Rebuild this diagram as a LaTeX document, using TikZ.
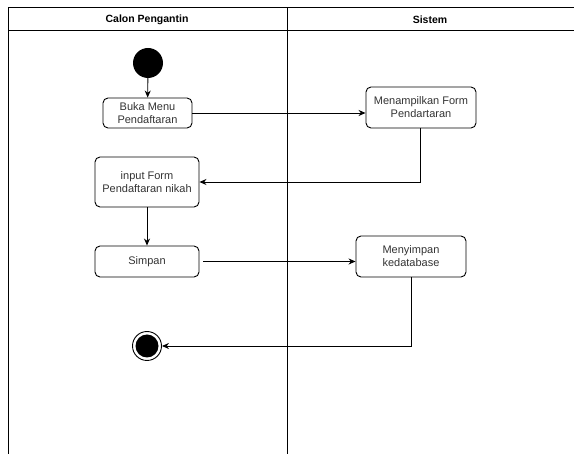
\documentclass[tikz,border=0pt]{standalone}
\usepackage{fontspec}
\setmainfont{Liberation Sans}
\usetikzlibrary{arrows.meta}
\begin{document}
\begin{tikzpicture}[x=1pt,y=-1pt,
  every node/.style={font=\fontsize{11}{13}\selectfont},
  act/.style={draw, line width=0.9pt, rounded corners=5pt, inner sep=0pt, align=center, text=black!80},
  flow/.style={draw, line width=0.9pt, -{Stealth[length=7pt,width=6pt]}},
  lane/.style={line width=1pt}]
\useasboundingbox (0,0) rectangle (574,454);
% swimlanes
\coordinate (tl) at (8,8);
\coordinate (tr) at (574,8);
\coordinate (hl) at (8,31);
\coordinate (hr) at (574,31);
\coordinate (bl) at (8,454);
\coordinate (dt) at (287,8);
\coordinate (db) at (287,454);
\draw[lane] (tr) -- (tl) -- (bl);
\draw[lane] (hl) -- (hr);
\draw[lane] (dt) -- (db);
\node[font=\fontsize{10.5}{12.5}\selectfont\bfseries] (h1) at (147,19.5) {Calon Pengantin};
\node[font=\fontsize{10.5}{12.5}\selectfont\bfseries] (h2) at (430,19.5) {Sistem};
% nodes
\node[circle, fill=black, minimum size=30pt, inner sep=0pt] (start) at (148,63) {};
\node[act, minimum width=89pt, minimum height=30pt] (buka) at (147.5,113) {Buka Menu\\Pendaftaran};
\node[act, minimum width=110pt, minimum height=41pt] (tampil) at (421,107.5) {Menampilkan Form\\Pendartaran};
\node[act, minimum width=104pt, minimum height=50pt] (input) at (147,182) {input Form\\Pendaftaran nikah};
\node[act, minimum width=104pt, minimum height=31pt] (simpan) at (147,261.5) {Simpan};
\node[act, minimum width=110pt, minimum height=41pt] (menyimpan) at (411,256.5) {Menyimpan\\kedatabase};
\node[circle, draw, line width=0.9pt, minimum size=29pt, inner sep=0pt] (end) at (147,346) {};
\node[circle, fill=black, minimum size=23pt, inner sep=0pt] (endin) at (147,346) {};
% connectors
\draw[flow] (start) -- (buka);
\draw[flow] (buka.east) -- (tampil.west |- buka.east);
\draw[flow] (tampil.south -| 420,0) |- (input.east);
\draw[flow] (input) -- (simpan);
\draw[flow] ([xshift=4pt]simpan.east) -- (menyimpan.west |- simpan.east);
\draw[flow] (menyimpan.south) |- (end.east);
\end{tikzpicture}
\end{document}
